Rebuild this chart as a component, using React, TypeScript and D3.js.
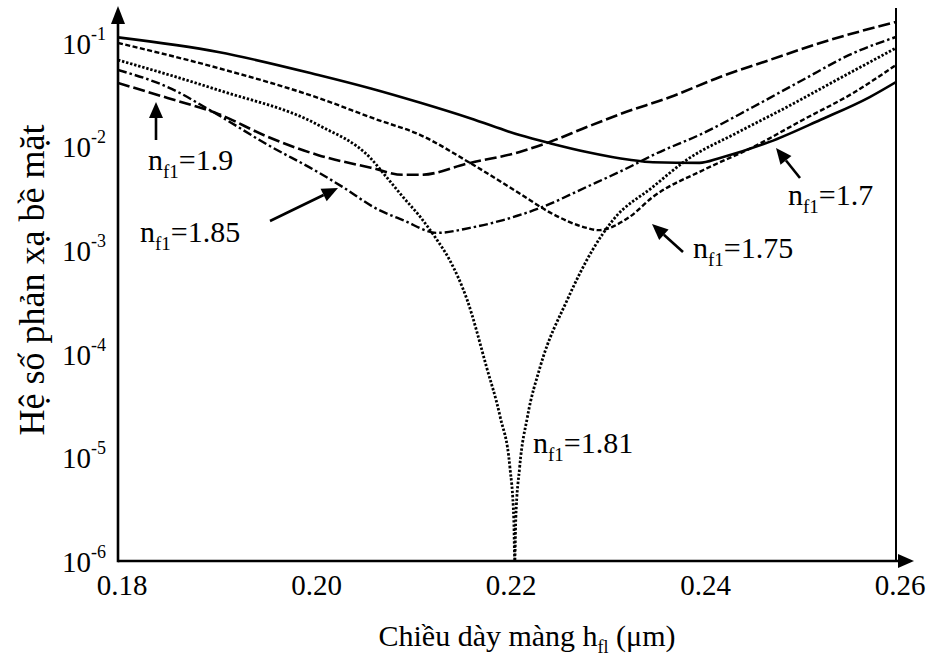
import React, { useEffect, useRef } from "react";
import * as d3 from "d3";

// tick values
const xTicks = [0.18, 0.2, 0.22, 0.24, 0.26];
const yExponents = [-1, -2, -3, -4, -5, -6];

// n_f1 = 1.7 (solid)
const h170 = [0.18, 0.1903, 0.2006, 0.206, 0.2111, 0.2162, 0.2213, 0.2244, 0.2282, 0.2326, 0.235, 0.2398, 0.2419, 0.247, 0.2522, 0.2573, 0.26];
const r170 = [0.112, 0.081, 0.0486, 0.036, 0.0262, 0.0186, 0.0128, 0.0107, 0.0088, 0.0074, 0.007, 0.0069, 0.0077, 0.011, 0.0179, 0.0298, 0.0416];

// n_f1 = 1.75 (short dash)
const h175 = [0.18, 0.1903, 0.2006, 0.2063, 0.2111, 0.2162, 0.2213, 0.2244, 0.2282, 0.2294, 0.2326, 0.235, 0.2402, 0.2453, 0.2504, 0.2556, 0.26];
const r175 = [0.099, 0.0567, 0.0292, 0.0185, 0.0128, 0.0069, 0.0035, 0.0023, 0.00163, 0.00155, 0.00208, 0.00324, 0.0059, 0.0098, 0.0179, 0.0326, 0.0607];

// n_f1 = 1.81 (dotted)
const h181 = [0.18, 0.1903, 0.2006, 0.206, 0.2076, 0.2093, 0.2111, 0.2126, 0.2141, 0.2159, 0.2179, 0.2193, 0.2203, 0.2207, 0.2208, 0.2209, 0.2213, 0.2221, 0.2234, 0.2262, 0.2288, 0.2309, 0.235, 0.2385, 0.2436, 0.2488, 0.2539, 0.26];
const r181 = [0.0678, 0.0348, 0.0160, 0.0076, 0.00505, 0.00324, 0.00207, 0.00133, 0.0008, 0.00033, 0.000074, 0.0000245, 0.000008, 0.0000025, 0.000001, 0.0000025, 0.000008, 0.0000245, 0.000074, 0.00033, 0.001, 0.00194, 0.00405, 0.0074, 0.0134, 0.0239, 0.0435, 0.0885];

// n_f1 = 1.85 (dash dot)
const h185 = [0.18, 0.1851, 0.1903, 0.1954, 0.2006, 0.203, 0.2067, 0.2093, 0.2128, 0.2162, 0.2196, 0.2234, 0.2282, 0.2326, 0.235, 0.2402, 0.2453, 0.2504, 0.2556, 0.26];
const r185 = [0.0543, 0.0372, 0.02, 0.0103, 0.0056, 0.0041, 0.00246, 0.00194, 0.00146, 0.00163, 0.00194, 0.00254, 0.00405, 0.0063, 0.0082, 0.0134, 0.0239, 0.0435, 0.079, 0.113];

// n_f1 = 1.9 (long dash)
const h190 = [0.18, 0.1851, 0.1903, 0.1954, 0.2006, 0.206, 0.2093, 0.2111, 0.2162, 0.2213, 0.2244, 0.2282, 0.232, 0.2368, 0.2419, 0.247, 0.2522, 0.26];
const r190 = [0.0407, 0.0292, 0.0205, 0.0123, 0.0082, 0.0062, 0.0053, 0.0053, 0.0069, 0.0088, 0.011, 0.0153, 0.021, 0.0298, 0.0465, 0.0678, 0.099, 0.158];

const series = [
  { h: h170, r: r170, dash: null, width: 2.6 },
  { h: h175, r: r175, dash: "5,2.5", width: 2.4 },
  { h: h181, r: r181, dash: "2.4,1.8", width: 2.8 },
  { h: h185, r: r185, dash: "9,3,2.5,3", width: 2.4 },
  { h: h190, r: r190, dash: "12,4", width: 2.6 },
];

// label text, position and arrow (from -> tip)
const labels = [
  { value: "1.9", x: 148, y: 170, arrow: [156, 140, 156, 102] },
  { value: "1.85", x: 140, y: 242, arrow: [270, 221, 338, 188] },
  { value: "1.7", x: 788, y: 205, arrow: [800, 178, 776, 148] },
  { value: "1.75", x: 693, y: 258, arrow: [683, 252, 652, 224] },
  { value: "1.81", x: 533, y: 453, arrow: null },
];

const W = 931, H = 656;
const left = 118, right = 896, bottom = 561;

export default function App() {
  const ref = useRef(null);

  useEffect(() => {
    const svg = d3.select(ref.current);
    svg.selectAll("*").remove();

    const x = d3.scaleLinear().domain([0.18, 0.26]).range([left, right]);
    const y = d3.scaleLog().domain([1e-6, 1e-1]).range([bottom, 42.5]);

    svg.append("defs").append("clipPath").attr("id", "plotclip").append("rect")
      .attr("x", left).attr("y", 0).attr("width", right - left).attr("height", bottom);

    // curves
    const line = d3.line().x(d => x(d[0])).y(d => y(d[1])).curve(d3.curveMonotoneX);
    const g = svg.append("g").attr("clip-path", "url(#plotclip)");
    series.forEach(s => {
      const pts = s.h.map((h, i) => [h, s.r[i]]);
      g.append("path").attr("d", line(pts)).attr("fill", "none")
        .attr("stroke", "#000").attr("stroke-width", s.width)
        .attr("stroke-dasharray", s.dash);
    });

    // axes frame
    svg.append("line").attr("x1", left).attr("y1", bottom + 1.3).attr("x2", left).attr("y2", 20)
      .attr("stroke", "#000").attr("stroke-width", 2.6);
    svg.append("path").attr("d", `M${left},6 L${left - 7},24 L${left + 7},24 z`).attr("fill", "#000");
    svg.append("line").attr("x1", left).attr("y1", bottom).attr("x2", 902).attr("y2", bottom)
      .attr("stroke", "#000").attr("stroke-width", 2.6);
    svg.append("path").attr("d", `M914,${bottom} L898,${bottom - 7} L898,${bottom + 7} z`).attr("fill", "#000");
    svg.append("line").attr("x1", right).attr("y1", 8).attr("x2", right).attr("y2", bottom)
      .attr("stroke", "#000").attr("stroke-width", 2);

    // x tick labels
    svg.selectAll(".xt").data(xTicks).join("text").attr("class", "xt")
      .attr("x", d => x(d) + 4).attr("y", 595).attr("text-anchor", "middle")
      .attr("font-size", 29).text(d => d.toFixed(2));

    // y tick labels
    yExponents.forEach(e => {
      const yy = y(Math.pow(10, e));
      svg.append("text").attr("x", 91).attr("y", yy + 11).attr("text-anchor", "end")
        .attr("font-size", 29).text("10");
      svg.append("text").attr("x", 91).attr("y", yy - 3)
        .attr("font-size", 18).text(String(e));
    });

    // annotations
    labels.forEach(l => {
      const t = svg.append("text").attr("x", l.x).attr("y", l.y).attr("font-size", 30);
      t.append("tspan").text("n");
      t.append("tspan").attr("dy", 8).attr("font-size", 19).text("f1");
      t.append("tspan").attr("dy", -8).text("=" + l.value);
      if (l.arrow) {
        const [x1, y1, x2, y2] = l.arrow;
        const ang = Math.atan2(y2 - y1, x2 - x1);
        const bx = x2 - 16 * Math.cos(ang), by = y2 - 16 * Math.sin(ang);
        svg.append("line").attr("x1", x1).attr("y1", y1).attr("x2", bx).attr("y2", by)
          .attr("stroke", "#000").attr("stroke-width", 2.6);
        const px = -Math.sin(ang) * 7, py = Math.cos(ang) * 7;
        svg.append("path")
          .attr("d", `M${x2},${y2} L${bx + px},${by + py} L${bx - px},${by - py} z`)
          .attr("fill", "#000");
      }
    });

    // axis titles
    const xt = svg.append("text").attr("x", 527).attr("y", 646).attr("text-anchor", "middle")
      .attr("font-size", 30);
    xt.append("tspan").text("Chiều dày màng h");
    xt.append("tspan").attr("dy", 7).attr("font-size", 18).text("fl");
    xt.append("tspan").attr("dy", -7).text(" (μm)");

    svg.append("text").attr("transform", "translate(44,280) rotate(-90)")
      .attr("text-anchor", "middle").attr("font-size", 36)
      .text("Hệ số phản xạ bề mặt");
  }, []);

  return (
    <svg ref={ref} width={W} height={H}
      style={{ position: "absolute", left: 0, top: 0, background: "#fff", display: "block", fontFamily: "'Liberation Serif', serif" }} />
  );
}
